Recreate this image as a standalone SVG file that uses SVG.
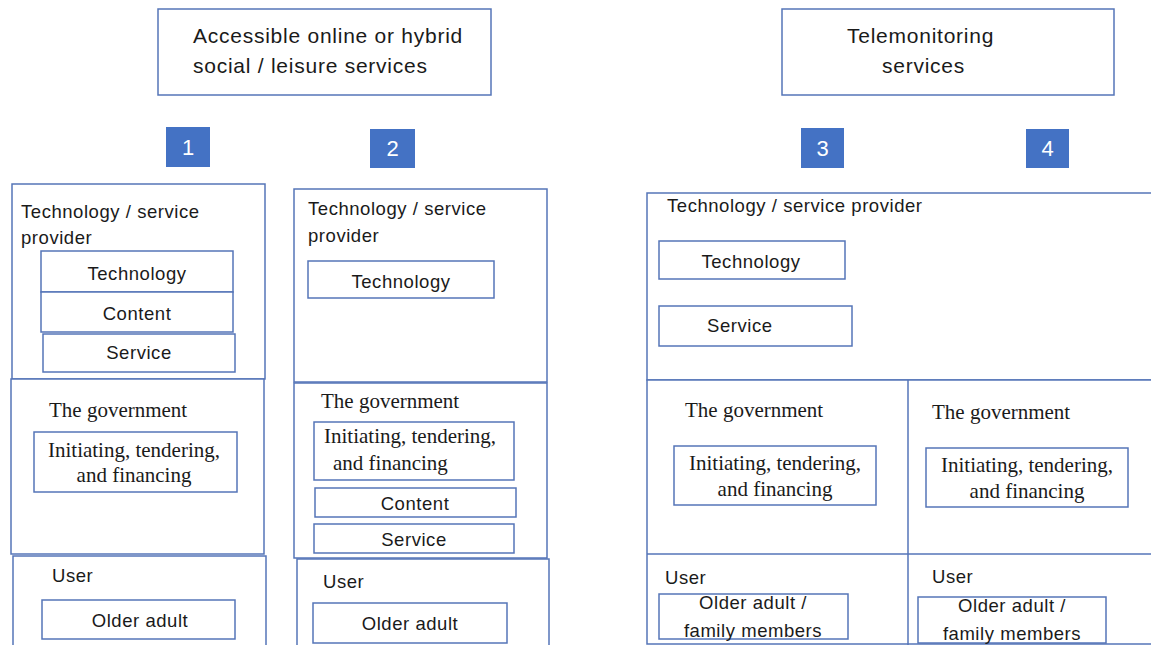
<svg xmlns="http://www.w3.org/2000/svg" width="1151" height="645" viewBox="0 0 1151 645">
  <style>
    .box { fill: #ffffff; stroke: #5575b8; stroke-width: 1.5; }
    .line { stroke: #5575b8; stroke-width: 1.5; fill: none; }
    .badge { fill: #4472c4; }
    .num { font-family: "Liberation Sans", Arial, sans-serif; font-size: 22px; fill: #ffffff; text-anchor: middle; }
    .title { font-family: "Liberation Sans", Arial, sans-serif; font-size: 21px; fill: #1a1a1a; letter-spacing: 0.75px; }
    .sans { font-family: "Liberation Sans", Arial, sans-serif; font-size: 18.5px; fill: #1a1a1a; letter-spacing: 0.55px; }
    .serif { font-family: "Liberation Serif", "Times New Roman", serif; font-size: 21px; fill: #1a1a1a; }
    .mid { text-anchor: middle; }
  </style>

  <rect width="1151" height="645" fill="#ffffff"/>

  <!-- Category headers -->
  <g id="header-social">
    <rect class="box" x="158" y="9" width="333" height="86"/>
    <text class="title" x="193" y="43">Accessible online or hybrid</text>
    <text class="title" x="193" y="73">social / leisure services</text>
  </g>
  <g id="header-telemonitoring">
    <rect class="box" x="782" y="9" width="332" height="86"/>
    <text class="title" x="847" y="43">Telemonitoring</text>
    <text class="title" x="882" y="73">services</text>
  </g>

  <!-- Model numbers -->
  <g id="badge-1"><rect class="badge" x="166" y="127" width="44" height="40"/><text class="num" x="188" y="155">1</text></g>
  <g id="badge-2"><rect class="badge" x="370" y="129" width="45" height="39"/><text class="num" x="392.5" y="156">2</text></g>
  <g id="badge-3"><rect class="badge" x="801" y="128" width="43" height="40"/><text class="num" x="822.5" y="156">3</text></g>
  <g id="badge-4"><rect class="badge" x="1026" y="129" width="43" height="39"/><text class="num" x="1047.5" y="156">4</text></g>

  <!-- Model 1 -->
  <g id="m1-provider">
    <rect class="box" x="12" y="184" width="253" height="195"/>
    <text class="sans" x="21" y="218">Technology / service</text>
    <text class="sans" x="21" y="244">provider</text>
  </g>
  <g id="m1-technology"><rect class="box" x="41" y="251" width="192" height="41"/><text class="sans mid" x="137" y="280">Technology</text></g>
  <g id="m1-content"><rect class="box" x="41" y="292" width="192" height="40"/><text class="sans mid" x="137" y="320">Content</text></g>
  <g id="m1-service"><rect class="box" x="43" y="334" width="192" height="38"/><text class="sans mid" x="139" y="359">Service</text></g>
  <g id="m1-government">
    <rect class="box" x="11" y="379" width="253" height="175"/>
    <text class="serif" x="49" y="417">The government</text>
  </g>
  <g id="m1-initiating">
    <rect class="box" x="34" y="432" width="203" height="60"/>
    <text class="serif mid" x="134" y="457">Initiating, tendering,</text>
    <text class="serif mid" x="134" y="482">and financing</text>
  </g>
  <g id="m1-user">
    <rect class="box" x="13" y="556" width="253" height="95"/>
    <text class="sans" x="52" y="582">User</text>
  </g>
  <g id="m1-older"><rect class="box" x="42" y="600" width="193" height="39"/><text class="sans mid" x="140" y="627">Older adult</text></g>

  <!-- Model 2 -->
  <g id="m2-provider">
    <rect class="box" x="294" y="189" width="253" height="193"/>
    <text class="sans" x="308" y="215">Technology / service</text>
    <text class="sans" x="308" y="242">provider</text>
  </g>
  <g id="m2-technology"><rect class="box" x="308" y="261" width="186" height="37"/><text class="sans mid" x="401" y="288">Technology</text></g>
  <g id="m2-government">
    <rect class="box" x="294" y="383" width="253" height="175"/>
    <text class="serif" x="321" y="408">The government</text>
  </g>
  <g id="m2-initiating">
    <rect class="box" x="314" y="422" width="200" height="58"/>
    <text class="serif" x="324" y="443">Initiating, tendering,</text>
    <text class="serif" x="333" y="470">and financing</text>
  </g>
  <g id="m2-content"><rect class="box" x="315" y="488" width="201" height="29"/><text class="sans mid" x="415" y="510">Content</text></g>
  <g id="m2-service"><rect class="box" x="314" y="524" width="200" height="29"/><text class="sans mid" x="414" y="546">Service</text></g>
  <g id="m2-user">
    <rect class="box" x="297" y="559" width="252" height="92"/>
    <text class="sans" x="323" y="588">User</text>
  </g>
  <g id="m2-older"><rect class="box" x="313" y="603" width="194" height="40"/><text class="sans mid" x="410" y="630">Older adult</text></g>

  <!-- Models 3 and 4 share one provider block -->
  <g id="m34-provider">
    <rect class="box" x="647" y="193" width="510" height="187"/>
    <text class="sans" x="667" y="212">Technology / service provider</text>
  </g>
  <g id="m34-technology"><rect class="box" x="659" y="241" width="186" height="38"/><text class="sans mid" x="751" y="268">Technology</text></g>
  <g id="m34-service"><rect class="box" x="659" y="306" width="193" height="40"/><text class="sans" x="707" y="332">Service</text></g>

  <!-- Grid dividing models 3 and 4 -->
  <g id="grid">
    <rect class="box" x="647" y="380" width="510" height="264"/>
    <line class="line" x1="908" y1="380" x2="908" y2="645"/>
    <line class="line" x1="647" y1="554" x2="1157" y2="554"/>
  </g>

  <!-- Model 3 -->
  <g id="m3-government"><text class="serif" x="685" y="417">The government</text></g>
  <g id="m3-initiating">
    <rect class="box" x="674" y="446" width="202" height="59"/>
    <text class="serif mid" x="775" y="470">Initiating, tendering,</text>
    <text class="serif mid" x="775" y="496">and financing</text>
  </g>
  <g id="m3-user"><text class="sans" x="665" y="584">User</text></g>
  <g id="m3-older">
    <rect class="box" x="659" y="594" width="189" height="45"/>
    <text class="sans mid" x="753" y="609">Older adult /</text>
    <text class="sans mid" x="753" y="637">family members</text>
  </g>

  <!-- Model 4 -->
  <g id="m4-government"><text class="serif" x="932" y="419">The government</text></g>
  <g id="m4-initiating">
    <rect class="box" x="926" y="448" width="202" height="59"/>
    <text class="serif mid" x="1027" y="472">Initiating, tendering,</text>
    <text class="serif mid" x="1027" y="498">and financing</text>
  </g>
  <g id="m4-user"><text class="sans" x="932" y="583">User</text></g>
  <g id="m4-older">
    <rect class="box" x="918" y="597" width="188" height="46"/>
    <text class="sans mid" x="1012" y="612">Older adult /</text>
    <text class="sans mid" x="1012" y="640">family members</text>
  </g>

  <!-- No connectors are drawn between the blocks -->
  <g id="connectors"/>
</svg>
